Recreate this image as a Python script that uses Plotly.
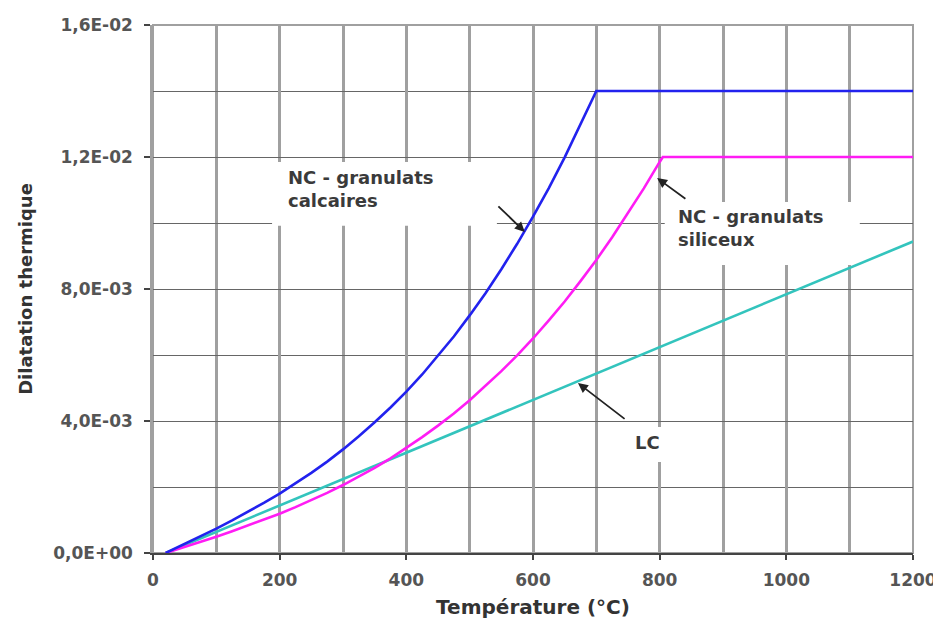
import plotly.graph_objects as go

# ---- data ----
temp_calc = [20, 50, 75, 100, 125, 150, 175, 200, 225, 250, 275, 300, 325, 350, 375, 400,
             425, 450, 475, 500, 525, 550, 575, 600, 625, 650, 675, 700, 1200]
dil_calc = [0.0, 0.00027, 0.00051, 0.00074, 0.00099, 0.00125, 0.00152, 0.00180, 0.00211,
            0.00243, 0.00277, 0.00314, 0.00354, 0.00396, 0.00441, 0.00489, 0.00541, 0.00597,
            0.00656, 0.00720, 0.00787, 0.00860, 0.00937, 0.01019, 0.01106, 0.01199, 0.01297,
            0.01400, 0.01400]

temp_sil = [20, 50, 75, 100, 125, 150, 175, 200, 225, 250, 275, 300, 325, 350, 375, 400,
            425, 450, 475, 500, 525, 550, 575, 600, 625, 650, 675, 700, 725, 750, 775, 800,
            805, 1200]
dil_sil = [0.0, 0.00018, 0.00034, 0.00049, 0.00066, 0.00083, 0.00101, 0.00119, 0.00139,
           0.00160, 0.00182, 0.00206, 0.00231, 0.00258, 0.00287, 0.00318, 0.00351, 0.00386,
           0.00423, 0.00463, 0.00506, 0.00551, 0.00599, 0.00650, 0.00705, 0.00762, 0.00824,
           0.00888, 0.00957, 0.01029, 0.01105, 0.01185, 0.01200, 0.01200]

temp_lc = [20, 1200]
dil_lc = [0.0, 0.00944]

x_tickvals = [0, 200, 400, 600, 800, 1000, 1200]
x_ticktext = ["0", "200", "400", "600", "800", "1000", "1200"]
y_tickvals = [0.0, 0.004, 0.008, 0.012, 0.016]
y_ticktext = ["0,0E+00", "4,0E-03", "8,0E-03", "1,2E-02", "1,6E-02"]

FONT = "DejaVu Sans"
TXT = "#3a3a3a"

fig = go.Figure()
fig.add_trace(go.Scatter(x=temp_lc, y=dil_lc, mode="lines", name="LC",
                         line=dict(color="#33c4bd", width=2.6)))
fig.add_trace(go.Scatter(x=temp_sil, y=dil_sil, mode="lines", name="NC - granulats siliceux",
                         line=dict(color="#ff1cf4", width=2.6)))
fig.add_trace(go.Scatter(x=temp_calc, y=dil_calc, mode="lines", name="NC - granulats calcaires",
                         line=dict(color="#2222ee", width=2.6)))

# white label boxes (above grid, below curves)
boxes = [(188, 543, 0.00992, 0.01185), (808, 1116, 0.00873, 0.01064), (745, 864, 0.00276, 0.00382)]
shapes = [dict(type="rect", xref="x", yref="y", x0=a, x1=b, y0=c, y1=d,
               fillcolor="white", line=dict(width=0), layer="between") for a, b, c, d in boxes]
# outer frame (gray)
shapes.append(dict(type="rect", xref="paper", yref="paper", x0=0, x1=1, y0=0, y1=1,
                   line=dict(color="#a0a0a0", width=2), layer="between"))

annotations = [
    dict(x=210, y=0.01103, xref="x", yref="y", text="NC - granulats<br>calcaires", showarrow=False,
         xanchor="left", yanchor="middle", align="left", font=dict(family=FONT, size=18, color=TXT, weight="bold")),
    dict(x=825, y=0.00985, xref="x", yref="y", text="NC - granulats<br>siliceux", showarrow=False,
         xanchor="left", yanchor="middle", align="left", font=dict(family=FONT, size=18, color=TXT, weight="bold")),
    dict(x=758, y=0.00336, xref="x", yref="y", text="LC", showarrow=False,
         xanchor="left", yanchor="middle", align="left", font=dict(family=FONT, size=18, color=TXT, weight="bold")),
    # arrows
    dict(x=587, y=0.00973, ax=543, ay=0.01055, xref="x", yref="y", axref="x", ayref="y", text="",
         showarrow=True, arrowhead=2, arrowsize=1.1, arrowwidth=1.8, arrowcolor="#222"),
    dict(x=796, y=0.01136, ax=843, ay=0.0107, xref="x", yref="y", axref="x", ayref="y", text="",
         showarrow=True, arrowhead=2, arrowsize=1.1, arrowwidth=1.8, arrowcolor="#222"),
    dict(x=671, y=0.00515, ax=747, ay=0.00403, xref="x", yref="y", axref="x", ayref="y", text="",
         showarrow=True, arrowhead=2, arrowsize=1.1, arrowwidth=1.8, arrowcolor="#222"),
]

fig.update_layout(
    width=933, height=611,
    margin=dict(l=145, r=28, t=17, b=66, autoexpand=False),
    paper_bgcolor="white", plot_bgcolor="white",
    showlegend=False,
    shapes=shapes,
    annotations=annotations,
    xaxis=dict(
        range=[0, 1200], tickmode="array", tickvals=x_tickvals, ticktext=x_ticktext,
        automargin=False,
        showgrid=True, gridcolor="#a0a0a0", gridwidth=2.5,
        minor=dict(dtick=100, tick0=0, showgrid=True, gridcolor="#a0a0a0", gridwidth=2.5),
        showline=True, linecolor="#444", linewidth=1.5,
        ticks="outside", ticklen=5, tickcolor="#444", tickwidth=1.5,
        ticklabelstandoff=6, zeroline=False,
        tickfont=dict(family=FONT, size=17, color="#555", weight="bold"),
        title=dict(text="Température (°C)", standoff=14,
                   font=dict(family=FONT, size=20, color="#333", weight="bold")),
    ),
    yaxis=dict(
        range=[0, 0.016], tickmode="array", tickvals=y_tickvals, ticktext=y_ticktext,
        automargin=False,
        showgrid=True, gridcolor="#666", gridwidth=1.3,
        minor=dict(dtick=0.002, tick0=0, showgrid=True, gridcolor="#666", gridwidth=1.3),
        showline=True, linecolor="#a0a0a0", linewidth=2.5,
        ticks="outside", ticklen=6, tickcolor="#444", tickwidth=1.5,
        ticklabelstandoff=8, zeroline=False,
        tickfont=dict(family=FONT, size=17, color="#555", weight="bold"),
        title=dict(text="Dilatation thermique", standoff=16,
                   font=dict(family=FONT, size=18, color="#333", weight="bold")),
    ),
)

fig.write_html("out.html")
